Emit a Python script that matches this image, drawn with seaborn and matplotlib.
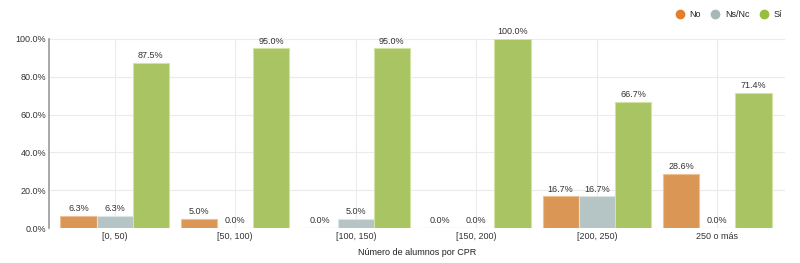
import matplotlib
matplotlib.use("Agg")
import matplotlib.pyplot as plt
import seaborn as sns
import pandas as pd
from matplotlib.lines import Line2D

categories = ["[0, 50)", "[50, 100)", "[100, 150)", "[150, 200)", "[200, 250)", "250 o más"]
series_names = ["No", "Ns/Nc", "Sí"]
no_vals = [6.3, 5.0, 0.0, 0.0, 16.7, 28.6]
nsnc_vals = [6.3, 0.0, 5.0, 0.0, 16.7, 0.0]
si_vals = [87.5, 95.0, 95.0, 100.0, 66.7, 71.4]
y_ticks = [0, 20, 40, 60, 80, 100]

bar_colors = ["#DA9655", "#B5C4C4", "#A9C462"]
legend_colors = ["#E07F2E", "#A8B8B8", "#98BE3E"]

rows = []
for name, vals in zip(series_names, [no_vals, nsnc_vals, si_vals]):
    for c, v in zip(categories, vals):
        rows.append({"cat": c, "serie": name, "val": v})
df = pd.DataFrame(rows)

sns.set_style("white")
plt.rcParams["font.family"] = ["Liberation Sans", "DejaVu Sans"]

fig = plt.figure(figsize=(8, 2.63), dpi=100)
ax = fig.add_axes([0.061, 0.133, 0.92, 0.719])

sns.barplot(data=df, x="cat", y="val", hue="serie", order=categories,
            hue_order=series_names, palette=bar_colors, width=0.9,
            saturation=1, ax=ax, legend=False, zorder=3)

edge_cols = ["#F0C095", "#DDE6E6", "#D2E3A4"]
for container, ec in zip(ax.containers, edge_cols):
    for b in container:
        b.set_edgecolor(ec)
        b.set_linewidth(0.8)
    ax.bar_label(container, labels=[f"{v:.1f}%" for v in container.datavalues],
                 padding=2, fontsize=6.5, color="#333333")

ax.set_ylim(0, 100)
ax.set_xlim(-0.547, 5.56)
ax.set_yticks(y_ticks)
ax.set_yticklabels([f"{t:.1f}%" for t in y_ticks], fontsize=6.5, color="#333333")
ax.tick_params(axis="x", labelsize=6.5, colors="#333333", length=0, pad=3)
ax.tick_params(axis="y", length=0, pad=2)
ax.grid(True, color="#EBEBEB", linewidth=0.8, zorder=0)
ax.set_axisbelow(True)
for s in ["top", "right", "bottom"]:
    ax.spines[s].set_visible(False)
ax.spines["left"].set_color("#999999")
ax.spines["left"].set_linewidth(1.2)
ax.set_xlabel("Número de alumnos por CPR", fontsize=6.5, color="#222222", labelpad=5)
ax.set_ylabel("")

handles = [Line2D([0], [0], marker="o", linestyle="", markersize=6,
                  markerfacecolor=c, markeredgecolor=c) for c in legend_colors]
fig.legend(handles, series_names, loc="upper right", bbox_to_anchor=(0.985, 0.985),
           ncol=3, frameon=False, fontsize=6.5, handletextpad=0.05,
           columnspacing=0.6, borderaxespad=0.3, labelcolor="#222222")

fig.savefig("out.png", dpi=100)
